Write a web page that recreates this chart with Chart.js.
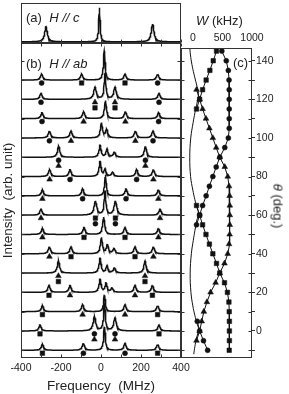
<!DOCTYPE html>
<html>
<head>
<meta charset="utf-8">
<title>NMR spectra vs angle</title>
<script src="https://cdn.jsdelivr.net/npm/chart.js@4.4.1/dist/chart.umd.min.js"></script>
<style>
  body { margin: 0; background: #fff; }
  #wrap { position: relative; width: 289px; height: 394px; overflow: hidden;
          font-family: "Liberation Sans", Arial, sans-serif; color: #222; }
  #wrap canvas { position: absolute; left: 0; top: 0; }
  .lbl { position: absolute; white-space: nowrap; font-size: 13px; line-height: 13px; }
</style>
</head>
<body>
<div id="wrap">
  <canvas id="chartA" width="289" height="394"></canvas>
  <canvas id="chartB" width="289" height="394"></canvas>
  <canvas id="chartC" width="289" height="394"></canvas>
  <div class="lbl" style="left:26px;top:11px">(a)&nbsp; <i>H // c</i></div>
  <div class="lbl" style="left:26px;top:57px">(b)&nbsp; <i>H // ab</i></div>
  <div class="lbl" style="left:233px;top:56px">(c)</div>
  <div class="lbl" style="left:196px;top:14px"><i>W</i> (kHz)</div>
  <div class="lbl" style="left:278px;top:206px;transform:translate(-50%,-50%) rotate(90deg)"><i>θ</i> (deg.)</div>
</div>
<script>
// panel (a), H // c : one spectrum
const aPos = [-275, -8, 258];          // MHz
const aHeight = [0.39, 0.88, 0.46];    // arb. unit
const aWidth = [8, 4, 8];              // half width, MHz

// panel (b), H // ab : one trace per angle, offset by the angle
const traceTheta = [130, 120, 110, 100, 90, 80, 70, 60, 50, 40, 30, 20, 10, 0, -10];
// peaks of each trace: [frequency MHz, height, half width MHz]
const tracePeaks = [
  [[-297, 6, 7], [-97, 6, 7], [16, 29, 5], [120, 6, 7], [283, 6, 7]],
  [[-300, 6, 7], [-30, 12, 8], [20, 26, 5], [70, 12, 8], [290, 6, 7]],
  [[-295, 6, 7], [-87, 7, 7], [22, 18, 6], [122, 7, 7], [288, 6, 7]],
  [[-258, 7, 7], [-150, 7, 7], [2, 15, 6], [28, 8, 7], [172, 7, 7], [260, 7, 7]],
  [[-212, 11, 7], [-5, 12, 6], [30, 8, 6], [67, 5, 7], [222, 11, 7]],
  [[-257, 7, 7], [-155, 7, 7], [-5, 15, 6], [20, 7, 6], [58, 4, 7], [178, 7, 7], [262, 7, 7]],
  [[-293, 6, 7], [-92, 7, 7], [22, 21, 5], [125, 7, 7], [287, 6, 7]],
  [[-300, 6, 7], [-28, 14, 8], [20, 24, 5], [72, 14, 8], [295, 6, 7]],
  [[-293, 6, 7], [-85, 7, 7], [13, 18, 6], [120, 7, 7], [287, 6, 7]],
  [[-258, 7, 7], [-150, 7, 7], [2, 16, 6], [32, 9, 6], [65, 5, 7], [170, 7, 7], [262, 7, 7]],
  [[-213, 12, 7], [-5, 15, 6], [30, 7, 6], [67, 5, 7], [220, 12, 7]],
  [[-260, 7, 7], [-155, 7, 7], [-5, 13, 6], [25, 9, 6], [55, 4, 7], [170, 7, 7], [257, 7, 7]],
  [[-293, 6, 7], [-92, 7, 7], [17, 17, 5], [120, 7, 7], [283, 6, 7]],
  [[-305, 6, 7], [-33, 14, 8], [17, 28, 5], [70, 13, 8], [290, 6, 7]],
  [[-293, 6, 7], [-88, 7, 7], [17, 24, 5], [120, 7, 7], [283, 6, 7]]
];
// peak labels: [theta, frequency MHz, row under the peak]
const bCircle = [[130, -297, 0], [130, 283, 0], [120, -300, 0], [120, 290, 0], [110, -295, 0], [110, 288, 0],
  [100, -258, 0], [100, 260, 0], [90, -212, 0], [90, 222, 0], [80, -155, 0], [80, 178, 0], [70, -92, 0], [70, 125, 0],
  [60, -28, 1], [60, 72, 1], [0, -33, 0], [0, 70, 0], [-10, -88, 0], [-10, 120, 0]];
const bSquare = [[130, -97, 0], [130, 120, 0], [120, -30, 1], [120, 70, 1], [60, -28, 0], [60, 72, 0],
  [50, -85, 0], [50, 120, 0], [40, -150, 0], [40, 170, 0], [30, -213, 1], [30, 220, 1], [20, -260, 0], [20, 257, 0],
  [10, -293, 0], [10, 283, 0], [0, -305, 0], [0, 290, 0], [-10, -293, 0], [-10, 283, 0]];
const bTriangle = [[120, -30, 0], [120, 70, 0], [110, -87, 0], [110, 122, 0], [100, -150, 0], [100, 172, 0],
  [90, -212, 1], [90, 222, 1], [80, -257, 0], [80, 262, 0], [70, -293, 0], [70, 287, 0], [60, -300, 0], [60, 295, 0],
  [50, -293, 0], [50, 287, 0], [40, -258, 0], [40, 262, 0], [30, -213, 0], [30, 220, 0], [20, -155, 0], [20, 170, 0],
  [10, -92, 0], [10, 120, 0], [0, -33, 1], [0, 70, 1]];

// panel (c): W (kHz) against theta, [theta, W]
const cSquareTop = [[145, 400], [140, 345], [135, 288], [130, 225], [125, 165], [120, 115], [115, 62]];
const cSquareLow = [[65, 62], [60, 115], [55, 165], [50, 222], [45, 280], [40, 338], [35, 400], [30, 455],
  [25, 535], [20, 585], [15, 610], [10, 615], [5, 618], [0, 618], [-5, 618], [-10, 615]];
const cCircleTop = [[145, 490], [140, 565], [135, 600], [130, 612], [125, 615], [120, 615], [115, 615], [110, 615],
  [105, 615], [100, 600], [95, 540], [90, 455], [85, 395], [80, 338], [75, 280], [70, 225], [65, 165], [60, 115], [55, 62]];
const cCircleLow = [[5, 75], [0, 115], [-5, 180], [-10, 250]];
const cTriangle = [[125, 62], [120, 115], [115, 165], [110, 222], [105, 280], [100, 338], [95, 395], [90, 455],
  [85, 540], [80, 590], [75, 612], [70, 622], [65, 625], [60, 625], [55, 625], [50, 622], [45, 612], [40, 590],
  [35, 535], [30, 455], [25, 385], [20, 300], [15, 238], [10, 186], [5, 150], [0, 115], [-5, 62]];
const cCurve = [[148, -55], [143, -40], [138, -15], [133, 20], [128, 60], [123, 95], [118, 70], [113, 35], [108, 5],
  [100, -35], [90, -52], [80, -38], [73, 0], [68, 35], [64, 70], [61, 95], [57, 65], [52, 35], [47, 8], [40, -25],
  [30, -45], [20, -32], [13, 0], [8, 35], [4, 70], [1, 95], [-4, 60], [-8, 35], [-12, 15]];
const cWTicks = [0, 500, 1000];
const thetaTicks = [-10, 0, 10, 20, 30, 40, 50, 60, 70, 80, 90, 100, 110, 120, 130, 140];

Chart.defaults.font.family = '"Liberation Sans", Arial, sans-serif';
Chart.defaults.font.size = 10;
Chart.defaults.color = '#222';
const ink = '#111';

// box round the plot area plus inward tick marks
const framePlugin = {
  id: 'frame',
  afterDatasetsDraw(chart, args, opts) {
    const ctx = chart.ctx, a = chart.chartArea;
    const L = Math.round(a.left) + 0.5, R = Math.round(a.right) - 0.5;
    const T = Math.round(a.top) + 0.5, B = Math.round(a.bottom) - 0.5;
    ctx.save();
    ctx.strokeStyle = '#333';
    ctx.lineWidth = 1;
    ctx.strokeRect(L, T, R - L, B - T);
    (opts.ticks || []).forEach(t => {
      const sc = chart.scales[t.scale];
      ctx.beginPath();
      for (let v = t.from; v <= t.to + 1e-9; v += t.step) {
        const p = Math.round(sc.getPixelForValue(v)) + 0.5;
        if (t.side === 'bottom') { ctx.moveTo(p, B); ctx.lineTo(p, B - t.len); }
        if (t.side === 'top') { ctx.moveTo(p, T); ctx.lineTo(p, T + t.len); }
        if (t.side === 'left') { ctx.moveTo(L, p); ctx.lineTo(L + t.len, p); }
        if (t.side === 'right') { ctx.moveTo(R, p); ctx.lineTo(R - t.len, p); }
      }
      ctx.stroke();
    });
    ctx.restore();
  }
};

function lorentz(f, c, h, g) {
  return h * g * g / ((f - c) * (f - c) + g * g);
}

// ---------- panel (a) ----------
const aData = [];
for (let f = -400; f <= 400; f += 1) {
  let y = 0;
  aPos.forEach((c, i) => { y += lorentz(f, c, aHeight[i], aWidth[i]); });
  aData.push({ x: f, y: y });
}

new Chart(document.getElementById('chartA'), {
  type: 'scatter',
  data: { datasets: [{ data: aData, showLine: true, pointRadius: 0, borderColor: ink, borderWidth: 1.5 }] },
  options: {
    responsive: false, animation: false,
    layout: { padding: { left: 21, right: 108, top: 3, bottom: 351 } },
    plugins: {
      legend: { display: false }, tooltip: { enabled: false },
      frame: { ticks: [{ scale: 'x', side: 'bottom', from: -400, to: 400, step: 100, len: 3 }] }
    },
    scales: {
      x: { type: 'linear', min: -400, max: 400, display: false },
      y: { min: -0.03, max: 1, display: false }
    }
  },
  plugins: [framePlugin]
});

// ---------- panel (b) ----------
const ampScale = 0.518;
const bSets = [];
traceTheta.forEach((th, i) => {
  const pts = [];
  for (let f = -400; f <= 400; f += 2) {
    let y = 0;
    tracePeaks[i].forEach(p => { y += lorentz(f, p[0], p[1], p[2]); });
    pts.push({ x: f, y: th + ampScale * y });
  }
  bSets.push({ data: pts, showLine: true, pointRadius: 0, borderColor: ink, borderWidth: 1.5 });
});
function markSet(list, style, r) {
  return {
    data: list.map(m => ({ x: m[1], y: m[0] - 1.5 - 2.9 * m[2] })),
    showLine: false, pointStyle: style, pointRadius: r,
    pointBackgroundColor: ink, pointBorderColor: ink, pointBorderWidth: 0.5
  };
}
bSets.push(markSet(bCircle, 'circle', 2.5));
bSets.push(markSet(bSquare, 'rect', 3.2));
bSets.push(markSet(bTriangle, 'triangle', 3.3));

new Chart(document.getElementById('chartB'), {
  type: 'scatter',
  data: { datasets: bSets },
  options: {
    responsive: false, animation: false,
    layout: { padding: { left: 0, right: 108, top: 43, bottom: 0 } },
    plugins: {
      legend: { display: false }, tooltip: { enabled: false },
      frame: { ticks: [
        { scale: 'x', side: 'bottom', from: -400, to: 400, step: 100, len: 3 },
        { scale: 'x', side: 'top', from: -400, to: 400, step: 100, len: 3 },
        { scale: 'y', side: 'left', from: -10, to: 140, step: 10, len: 3 },
        { scale: 'y', side: 'right', from: -10, to: 140, step: 10, len: 3 }
      ] }
    },
    scales: {
      x: {
        type: 'linear', min: -400, max: 400,
        grid: { display: false, drawTicks: false }, border: { display: false },
        ticks: { stepSize: 100, autoSkip: false, maxRotation: 0, padding: 4, font: { size: 10.5 },
                 callback: v => (v % 200 === 0 ? String(v) : '') },
        title: { display: true, text: 'Frequency  (MHz)', font: { size: 13.5 }, padding: { top: 0, bottom: 0 } },
        afterFit: s => { s.height = 36; s.paddingLeft = 0; s.paddingRight = 0; }
      },
      y: {
        min: -14, max: 149.2,
        grid: { display: false, drawTicks: false }, border: { display: false },
        ticks: { display: false },
        title: { display: true, text: 'Intensity  (arb. unit)', font: { size: 13.5 }, padding: { top: 0, bottom: 0 } },
        afterFit: s => { s.width = 21; s.paddingTop = 0; s.paddingBottom = 0; }
      }
    }
  },
  plugins: [framePlugin]
});

// ---------- panel (c) ----------
const toXY = list => list.map(p => ({ x: p[1], y: p[0] }));
function cSet(list, style, r) {
  return {
    data: toXY(list), showLine: true, borderColor: ink, borderWidth: 1,
    pointStyle: style, pointRadius: r, pointBackgroundColor: ink, pointBorderColor: ink, pointBorderWidth: 0.5
  };
}
new Chart(document.getElementById('chartC'), {
  type: 'scatter',
  data: { datasets: [
    { data: toXY(cCurve), showLine: true, pointRadius: 0, borderColor: ink, borderWidth: 1, tension: 0.4 },
    cSet(cSquareTop, 'rect', 3.2),
    cSet(cSquareLow, 'rect', 3.2),
    cSet(cCircleTop, 'circle', 2.5),
    cSet(cCircleLow, 'circle', 2.5),
    cSet(cTriangle, 'triangle', 3.3)
  ] },
  options: {
    responsive: false, animation: false,
    layout: { padding: { left: 181, right: 0, top: 0, bottom: 36 } },
    plugins: {
      legend: { display: false }, tooltip: { enabled: false },
      frame: { ticks: [
        { scale: 'y', side: 'left', from: -10, to: 140, step: 10, len: 3 },
        { scale: 'y', side: 'right', from: -10, to: 140, step: 10, len: 3 }
      ] }
    },
    scales: {
      x: {
        type: 'linear', position: 'top', min: -200, max: 1000,
        grid: { display: false, drawTicks: false }, border: { display: false },
        afterBuildTicks: s => { s.ticks = cWTicks.map(v => ({ value: v })); },
        ticks: { padding: 4, maxRotation: 0, autoSkip: false, font: { size: 10.5 }, callback: v => String(v) },
        afterFit: s => { s.height = 48; s.paddingLeft = 0; s.paddingRight = 0; }
      },
      y: {
        position: 'right', min: -14, max: 146.6,
        grid: { drawOnChartArea: false, drawTicks: true, tickLength: 3, color: '#333' },
        border: { display: false },
        afterBuildTicks: s => { s.ticks = thetaTicks.map(v => ({ value: v })); },
        ticks: { padding: 1, autoSkip: false, font: { size: 10.5 }, callback: v => (v % 20 === 0 ? String(v) : '') },
        afterFit: s => { s.width = 37; s.paddingTop = 0; s.paddingBottom = 0; }
      }
    }
  },
  plugins: [framePlugin]
});
</script>
</body>
</html>
